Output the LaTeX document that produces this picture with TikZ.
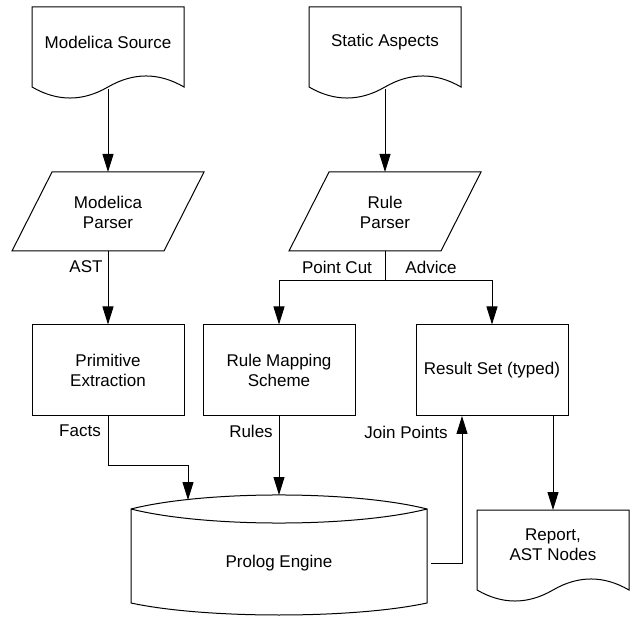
\documentclass[tikz,border=0pt]{standalone}
\usepackage{fontspec}
\setmainfont{Liberation Sans}
\usetikzlibrary{arrows.meta}
\begin{document}
\begin{tikzpicture}[x=1pt,y=-1pt,line width=1pt,
  lbl/.style={font=\fontsize{17}{20}\selectfont,inner sep=0pt,align=center},
  box/.style={lbl,draw,minimum width=152pt,minimum height=91pt},
  conn/.style={draw,-{Triangle[length=18pt,width=11pt]}},
  docpic/.pic={\draw (-76,0) -- (76,0) -- (76,80)
      .. controls (50.7,65.3) and (25.3,65.3) .. (0,80)
      .. controls (-25.3,94.7) and (-50.7,94.7) .. (-76,80) -- cycle;}]
\useasboundingbox (0,0) rectangle (632,617);

% documents
\pic at (108,7) {docpic};
\node[lbl] (src) at (108,42) {Modelica Source};
\pic at (385,7) {docpic};
\node[lbl] (asp) at (385,42) {Static Aspects};
\pic at (553,510) {docpic};
\node[lbl] (report) at (553,545) {Report,\\AST Nodes};

% parsers
\draw (52,172) -- (204,172) -- (164,251) -- (12,251) -- cycle;
\node[lbl] (mpar) at (108,212) {Modelica\\Parser};
\draw (329,172) -- (481,172) -- (441,251) -- (289,251) -- cycle;
\node[lbl] (rpar) at (385,212) {Rule\\Parser};

% boxes
\node[box] (prim) at (108,370.5) {Primitive\\Extraction};
\node[box] (rmap) at (279,370.5) {Rule Mapping\\Scheme};
\node[box] (rset) at (492,370.5) {Result Set (typed)};

% cylinder
\draw (131,509) .. controls (205,490.3) and (353,490.3) .. (427,509)
  -- (427,603) .. controls (353,619) and (205,619) .. (131,603) -- cycle;
\draw (131,509) .. controls (205,527.7) and (353,527.7) .. (427,509);
\node[lbl] (prolog) at (279,563) {Prolog Engine};

% connection points
\coordinate (src-out) at (108,89);
\coordinate (mpar-in) at (108,172);
\coordinate (mpar-out) at (108,251);
\coordinate (asp-out) at (385,89);
\coordinate (rpar-in) at (385,172);
\coordinate (rpar-out) at (385,251);
\coordinate (split) at (385,281);
\coordinate (cyl-in1) at (188,500);
\coordinate (cyl-in2) at (279,495);
\coordinate (cyl-out) at (431,563);
\coordinate (rset-in) at (462,416);
\coordinate (rset-out) at (553,416);
\coordinate (rep-in) at (553,510);

% connectors
\draw[conn] (src-out) -- (mpar-in);
\draw[conn] (asp-out) -- (rpar-in);
\draw[conn] (mpar-out) -- (prim.north);
\draw (rpar-out) -- (split);
\draw[conn] (split) -| (rmap.north);
\draw[conn] (split) -| (rset.north);
\draw[conn] (prim.south) -- ++(0,49) -| (cyl-in1);
\draw[conn] (rmap.south) -- (cyl-in2);
\draw[conn] (cyl-out) -| (rset-in);
\draw[conn] (rset-out) -- (rep-in);

% labels
\node[lbl] (l-ast) at (86,267) {AST};
\node[lbl] (l-pc) at (337,267) {Point Cut};
\node[lbl] (l-adv) at (431,267) {Advice};
\node[lbl] (l-facts) at (80,431) {Facts};
\node[lbl] (l-rules) at (251,431) {Rules};
\node[lbl] (l-jp) at (406,432) {Join Points};
\end{tikzpicture}
\end{document}
